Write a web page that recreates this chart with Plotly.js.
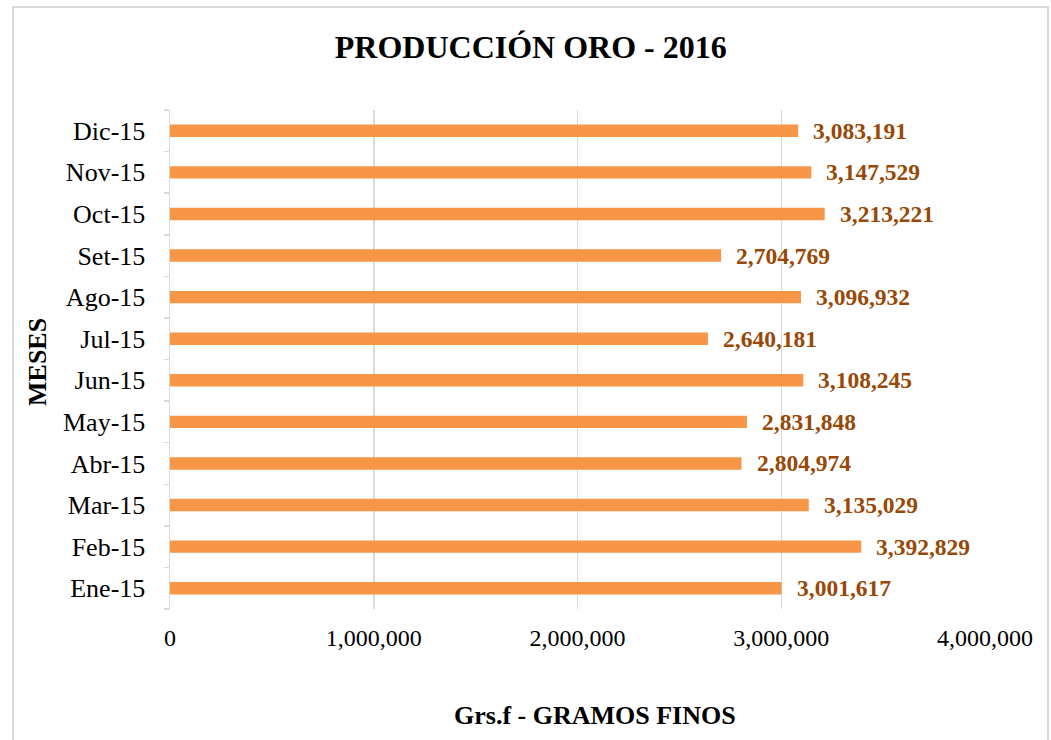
<!DOCTYPE html>
<html>
<head>
<meta charset="utf-8">
<script src="https://cdn.plot.ly/plotly-3.0.1.min.js"></script>
<style>
html,body{margin:0;padding:0;background:#fff;}
#chart{width:1051px;height:740px;}
</style>
</head>
<body>
<div id="chart"></div>
<script>
const months = ["Ene-15","Feb-15","Mar-15","Abr-15","May-15","Jun-15","Jul-15","Ago-15","Set-15","Oct-15","Nov-15","Dic-15"];
const gramos = [3001617,3392829,3135029,2804974,2831848,3108245,2640181,3096932,2704769,3213221,3147529,3083191];
const xTicks = [0,1000000,2000000,3000000,4000000];
const xTickLabels = ["0","1,000,000","2,000,000","3,000,000","4,000,000"];

const serif = "Liberation Serif, Times New Roman, serif";

const trace = {
  type: "bar",
  orientation: "h",
  y: months,
  x: gramos,
  width: 0.3,
  marker: {color: "#F79646"},
  hoverinfo: "none"
};

const labelAnn = gramos.map((v, i) => ({
  x: v, y: months[i], xref: "x", yref: "y",
  text: "<b>" + v.toLocaleString("en-US") + "</b>",
  showarrow: false, xanchor: "left", yanchor: "middle", xshift: 13,
  font: {family: serif, size: 23.5, color: "#984807"}
}));

const layout = {
  width: 1051, height: 740,
  margin: {l: 170, r: 66, t: 110, b: 131},
  paper_bgcolor: "#fff", plot_bgcolor: "#fff",
  showlegend: false,
  title: {
    text: "<b>PRODUCCIÓN ORO - 2016</b>",
    font: {family: serif, size: 32, color: "#000"},
    x: 0.505, xref: "container", xanchor: "center",
    y: 1 - 47/740, yref: "container", yanchor: "middle"
  },
  xaxis: {
    range: [0, 4000000],
    tickvals: xTicks, ticktext: xTickLabels,
    showgrid: true, gridcolor: "#d9d9d9", gridwidth: 1.5,
    zeroline: false, showline: false, ticks: "",
    ticklabelstandoff: 12,
    tickfont: {family: serif, size: 24, color: "#000"},
    fixedrange: true
  },
  yaxis: {
    type: "category",
    categoryorder: "array", categoryarray: months,
    showline: true, linecolor: "#d9d9d9", linewidth: 1.5,
    ticks: "outside", tickson: "boundaries", ticklen: 5, tickcolor: "#d9d9d9", tickwidth: 1.5,
    showgrid: false, zeroline: false,
    ticklabelstandoff: 18,
    tickfont: {family: serif, size: 26, color: "#000"},
    fixedrange: true
  },
  annotations: labelAnn.concat([
    {
      text: "<b>Grs.f - GRAMOS FINOS</b>", xref: "paper", yref: "paper",
      x: (595-170)/815, y: (609-715)/499, xanchor: "center", yanchor: "middle",
      showarrow: false, font: {family: serif, size: 26, color: "#000"}
    },
    {
      text: "<b>MESES</b>", xref: "paper", yref: "paper", textangle: -90,
      x: (37-170)/815, y: (609-362)/499, xanchor: "center", yanchor: "middle",
      showarrow: false, font: {family: serif, size: 26, color: "#000"}
    }
  ]),
  shapes: [{
    type: "rect", xref: "paper", yref: "paper",
    x0: (13-170)/815, x1: (1048-170)/815,
    y0: (609-760)/499, y1: (609-7)/499,
    line: {color: "#d9d9d9", width: 2}, fillcolor: "rgba(0,0,0,0)", layer: "above"
  }]
};

Plotly.newPlot("chart", [trace], layout, {displayModeBar: false, staticPlot: true});
</script>
</body>
</html>
